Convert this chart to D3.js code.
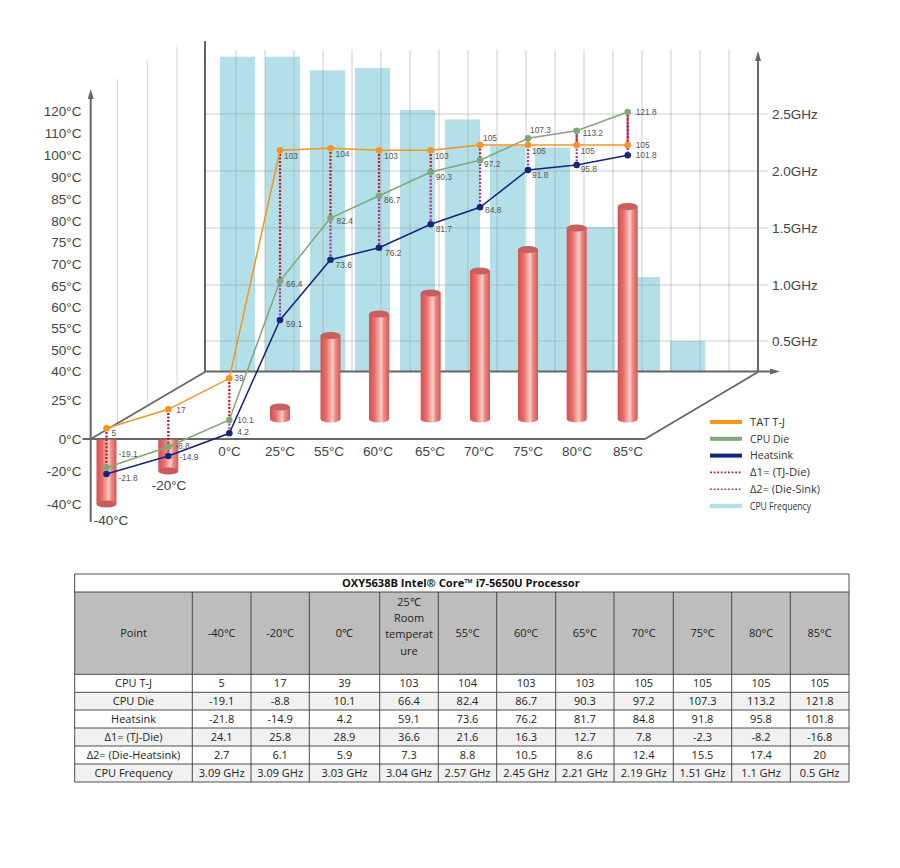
<!DOCTYPE html>
<html><head><meta charset="utf-8">
<script src="https://cdnjs.cloudflare.com/ajax/libs/d3/7.8.5/d3.min.js"></script>
<style>html,body{margin:0;padding:0;background:#fff}svg{display:block}</style>
</head><body><div id="c"></div>
<script>
// ---------- data ----------
const categories = ["-40°C","-20°C","0°C","25°C","55°C","60°C","65°C","70°C","75°C","80°C","85°C"];
const ambient = [-40,-20,0,25,55,60,65,70,75,80,85];
const tj = [5,17,39,103,104,103,103,105,105,105,105];
const die = [-19.1,-8.8,10.1,66.4,82.4,86.7,90.3,97.2,107.3,113.2,121.8];
const sink = [-21.8,-14.9,4.2,59.1,73.6,76.2,81.7,84.8,91.8,95.8,101.8];
const delta1 = [24.1,25.8,28.9,36.6,21.6,16.3,12.7,7.8,-2.3,-8.2,-16.8];
const delta2 = [2.7,6.1,5.9,7.3,8.8,10.5,8.6,12.4,15.5,17.4,20];
const freq = [3.09,3.09,3.03,3.04,2.57,2.45,2.21,2.19,1.51,1.1,0.5];
const tempTicks = [120,110,100,90,85,80,75,70,65,60,55,50,40,25,0,-20,-40];
const freqTicks = [0.5,1,1.5,2,2.5];
const tableTitle = "OXY5638B Intel® Core™ i7-5650U Processor";
const tableHeaders = ["Point","-40°C","-20°C","0℃",["25℃","Room","temperat","ure"],"55°C","60°C","65°C","70°C","75°C","80°C","85°C"];
const rowLabels = ["CPU T-J","CPU Die","Heatsink","Δ1= (TJ-Die)","Δ2= (Die-Heatsink)","CPU Frequency"];
const legendLabels = ["TAT T-J","CPU Die","Heatsink","Δ1= (TJ-Die)","Δ2= (Die-Sink)","CPU Frequency"];

// ---------- layout: scale calibration of the pseudo-3D drawing ----------
const W = 900, H = 868;
const col = {orange:"#f7931e", green:"#7fa878", navy:"#14257c", red:"#c4121f", purple:"#a8338f", bar:"#b3dfe9", axis:"#666", text:"#444"};
const svg = d3.select("#c").append("svg").attr("width",W).attr("height",H).attr("viewBox",[0,0,W,H])
  .style("font-family","'Liberation Sans',Arial,sans-serif");
const defs = svg.append("defs");
const grad = defs.append("linearGradient").attr("id","cyl");
[[0,"#d4504f"],[0.3,"#e8706c"],[0.62,"#f9cfc9"],[0.72,"#f0908a"],[1,"#d65553"]].forEach(s=>grad.append("stop").attr("offset",s[0]).attr("stop-color",s[1]));
const marker = defs.append("marker").attr("id","arrow").attr("viewBox","0 0 10 6").attr("refX",1).attr("refY",3)
  .attr("markerWidth",10).attr("markerHeight",6).attr("markerUnits","userSpaceOnUse").attr("orient","auto");
marker.append("path").attr("d","M0,0L10,3L0,6Z").attr("fill",col.axis);

// x position of each temperature step on the floor
const x = d3.scaleOrdinal(categories,[106.5,168.3,229.3,280,330.5,379,430.7,480,528,576.7,627.7]);
// printed left axis (uneven steps)
const yAxisScale = d3.scaleLinear().domain(tempTicks.slice().reverse())
  .range([504,471,438.7,400,371,350,328.5,307,286,264,242.5,221,199.5,177.5,155,133,110.7]);
// plotted lines sit on their own uneven perspective scale
const yLine = d3.scaleLinear()
  .domain([-21.8,-19.1,-14.9,-8.8,4.2,5,10.1,17,39,59.1,66.4,73.6,76.2,81.7,82.4,84.8,86.7,90.3,91.8,95.8,97.2,101.8,103,104,105,107.3,113.2,121.8])
  .range([474,467.7,456,446.7,433.3,428.3,420,409.3,378.3,320,281,259.7,247.7,224.3,218,207.3,195.7,172,170,165,160.3,155.3,150.3,148.3,145,138.3,130.7,112]);
const yFreq = d3.scaleLinear().domain([0.24,0.5,1,1.1,1.5,2,2.19,2.21,2.5,2.57,3.03,3.09]).range([371,341,285,277,228,171,147.5,146,114,110,70.3,56.7]);
const xBar = d3.scaleBand().domain(categories).range([220,705]).paddingInner(0.22);

// ---------- frequency bars ----------
svg.append("g").selectAll("rect").data(freq).join("rect")
  .attr("x",(d,i)=>xBar(categories[i])).attr("width",xBar.bandwidth())
  .attr("y",d=>yFreq(d)).attr("height",d=>371-yFreq(d)).attr("fill",col.bar);

// ---------- wall grid ----------
const grid = svg.append("g").attr("stroke","#8f8f8f").attr("stroke-opacity",0.45).attr("stroke-width",1);
const wallX = d3.range(236,758,29.0);
grid.selectAll("line.v").data(wallX).join("line").attr("class","v").attr("x1",d=>d).attr("x2",d=>d).attr("y1",50).attr("y2",371);
grid.selectAll("line.h").data(freqTicks).join("line").attr("class","h").attr("x1",205).attr("x2",768).attr("y1",d=>yFreq(d)).attr("y2",d=>yFreq(d));
[[117.5,79],[147.3,61],[177,45]].forEach(([vx,top])=>{
  grid.append("line").attr("x1",vx).attr("x2",vx).attr("y1",top).attr("y2",438-(vx-90.7)*0.577).attr("stroke-opacity",0.35);
});

// ---------- frame ----------
const frame = svg.append("g").attr("stroke",col.axis).attr("fill","none").attr("stroke-linecap","butt");
frame.append("line").attr("x1",90.7).attr("y1",522).attr("x2",90.7).attr("y2",98).attr("stroke-width",2).attr("marker-end","url(#arrow)");
frame.append("line").attr("x1",205).attr("y1",41).attr("x2",205).attr("y2",372).attr("stroke-width",2);
frame.append("line").attr("x1",758).attr("y1",372).attr("x2",758).attr("y2",60).attr("stroke-width",2).attr("marker-end","url(#arrow)");
frame.append("line").attr("x1",205).attr("y1",371.5).attr("x2",771).attr("y2",371.5).attr("stroke-width",2).attr("marker-end","url(#arrow)");
frame.append("line").attr("x1",82.5).attr("y1",439).attr("x2",645).attr("y2",439).attr("stroke-width",1.8);
frame.append("line").attr("x1",90.7).attr("y1",439).attr("x2",205).attr("y2",372).attr("stroke-width",1.8);
frame.append("line").attr("x1",645).attr("y1",439).attr("x2",758).attr("y2",372).attr("stroke-width",1.8);

// ---------- axes ----------
const axL = svg.append("g").attr("transform","translate(81.5,0)").call(d3.axisLeft(yAxisScale).tickValues(tempTicks).tickSize(0).tickPadding(0).tickFormat(d=>d+"°C"));
const axR = svg.append("g").attr("transform","translate(772,0)").call(d3.axisRight(yFreq).tickValues(freqTicks).tickSize(0).tickPadding(0).tickFormat(d=>d.toFixed(1)+"GHz"));
[axL,axR].forEach(a=>{a.select(".domain").remove();a.selectAll("text").attr("fill",col.text).style("font-size","13.5px").style("font-family","'Liberation Sans',Arial,sans-serif");});

// ---------- cylinders ----------
const cx = 10, cy = 3.6, floorY = 419;
const cyl = svg.append("g");
ambient.forEach((t,i)=>{
  if(t===0) return;
  const c = x(categories[i]);
  const neg = t<0;
  const top = neg ? yAxisScale(0)+1 : yAxisScale(t)+7;
  const bot = neg ? yAxisScale(t) : floorY;
  const g = cyl.append("g");
  g.append("rect").attr("x",c-cx).attr("width",cx*2).attr("y",top).attr("height",bot-top).attr("fill","url(#cyl)");
  g.append("ellipse").attr("cx",c).attr("cy",bot).attr("rx",cx).attr("ry",cy).attr("fill",neg?"#c75c5c":"url(#cyl)");
  if(!neg) g.append("ellipse").attr("cx",c).attr("cy",top).attr("rx",cx).attr("ry",cy).attr("fill","#c95e5e");
});

// ---------- x labels ----------
const labelX = [111,169,229.5,280,329,378,430,479,528,577,628];
svg.append("g").selectAll("text").data(categories).join("text")
  .attr("x",(d,i)=>labelX[i]).attr("y",(d,i)=>i===0?525:i===1?490:455.5)
  .attr("text-anchor","middle").attr("fill",col.text).style("font-size","13.5px").text(d=>d);

// ---------- dotted deltas ----------
const drops = svg.append("g").attr("fill","none").attr("stroke-width",2.2).attr("stroke-dasharray","2 1.6");
categories.forEach((c,i)=>{
  drops.append("line").attr("x1",x(c)).attr("x2",x(c)).attr("y1",yLine(die[i])).attr("y2",yLine(sink[i])).attr("stroke",col.purple);
});
categories.forEach((c,i)=>{
  drops.append("line").attr("x1",x(c)).attr("x2",x(c)).attr("y1",yLine(tj[i])).attr("y2",yLine(die[i])).attr("stroke",col.red);
});

// ---------- series ----------
const line = d3.line().x((d,i)=>x(categories[i])).y(d=>yLine(d));
const off = {
 tj:[[5,5],[8,1],[5,0],[4,6],[5,6],[5,6],[4,6],[3,-6.5],[4,6],[4,6],[8,0]],
 die:[[12,-13.5],[7,-0.5],[8,0],[6,3],[6,3],[5,4],[5,5],[4,4],[2,-8],[6,2.5],[8,0]],
 sink:[[12,4],[11,1],[8,-1],[6,4],[5,5],[6,5],[5,5],[5,3],[4,5],[4,4],[8,0]]
};
[[sink,col.navy,off.sink],[die,col.green,off.die],[tj,col.orange,off.tj]].forEach(([vals,c,o])=>{
  const g = svg.append("g");
  g.append("path").attr("d",line(vals)).attr("fill","none").attr("stroke",c).attr("stroke-width",1.5);
  g.selectAll("circle").data(vals).join("circle").attr("cx",(d,i)=>x(categories[i])).attr("cy",d=>yLine(d)).attr("r",3.3).attr("fill",c);
  g.selectAll("text").data(vals).join("text").attr("x",(d,i)=>x(categories[i])+o[i][0]).attr("y",(d,i)=>yLine(d)+o[i][1])
    .attr("dy","0.35em").attr("fill","#555").style("font-size","8.4px").text(d=>d);
});

// ---------- legend ----------
const legendStyles = [[col.orange,4,null],[col.green,4,null],[col.navy,4,null],[col.red,1.6,"1.8 1.8"],[col.purple,1.6,"1.8 1.8"],[col.bar,4.5,null]];
const legendWidths = [35,39,43,60,70,61];
const legendY = d3.scalePoint().domain(legendLabels).range([422,506]);
const lg = svg.append("g");
legendLabels.forEach((l,i)=>{
  const s = legendStyles[i];
  lg.append("line").attr("x1",710).attr("x2",742).attr("y1",legendY(l)).attr("y2",legendY(l)).attr("stroke",s[0]).attr("stroke-width",s[1]).attr("stroke-dasharray",s[2]);
  lg.append("text").attr("x",750).attr("y",legendY(l)).attr("dy","0.35em").attr("fill","#333")
    .style("font-family","'Open Sans',sans-serif").style("font-size","11px")
    .attr("textLength",legendWidths[i]).attr("lengthAdjust","spacingAndGlyphs").text(l);
});

// ---------- table ----------
const edges = [74.7,192.3,251,309.3,379.7,438.3,496.7,555.7,614,673.3,731.7,790.3,849];
const rowEdges = [674.3,692.3,710,728,746,764,782];
const tb = svg.append("g").style("font-family","'Open Sans',sans-serif").style("font-size","11px").attr("fill","#222");
tb.append("rect").attr("x",edges[0]).attr("y",592).attr("width",edges[12]-edges[0]).attr("height",82.3).attr("fill","#bdbdbd");
[1,3,5].forEach(r=>tb.append("rect").attr("x",edges[0]).attr("y",rowEdges[r]).attr("width",edges[12]-edges[0]).attr("height",rowEdges[r+1]-rowEdges[r]).attr("fill","#f1f1f1"));
tb.append("text").attr("x",(edges[0]+edges[12])/2-1).attr("y",583.3).attr("dy","0.35em").attr("text-anchor","middle").style("font-weight","700").style("font-size","11.1px").attr("fill","#111").text(tableTitle);
const midX = i=>(edges[i]+edges[i+1])/2;
tableHeaders.forEach((h,i)=>{
  if(Array.isArray(h)){
    h.forEach((s,k)=>tb.append("text").attr("x",midX(i)).attr("y",602+k*16.3).attr("dy","0.35em").attr("text-anchor","middle").text(s));
  } else {
    tb.append("text").attr("x",midX(i)).attr("y",633).attr("dy","0.35em").attr("text-anchor","middle").text(h);
  }
});
const rows = [tj,die,sink,delta1,delta2,freq.map(f=>f+" GHz")];
rows.forEach((r,ri)=>{
  const y = (rowEdges[ri]+rowEdges[ri+1])/2;
  tb.append("text").attr("x",midX(0)).attr("y",y).attr("dy","0.35em").attr("text-anchor","middle").text(rowLabels[ri]);
  r.forEach((v,ci)=>tb.append("text").attr("x",midX(ci+1)).attr("y",y).attr("dy","0.35em").attr("text-anchor","middle").text(v));
});
const tl = tb.append("g").attr("stroke","#3a3a3a").attr("stroke-width",0.9);
edges.forEach(e=>tl.append("line").attr("x1",e).attr("x2",e).attr("y1",592).attr("y2",782));
[574,592].concat(rowEdges).forEach(y=>tl.append("line").attr("x1",edges[0]).attr("x2",edges[12]).attr("y1",y).attr("y2",y));
[edges[0],edges[12]].forEach(e=>tl.append("line").attr("x1",e).attr("x2",e).attr("y1",574).attr("y2",592));
</script></body></html>
